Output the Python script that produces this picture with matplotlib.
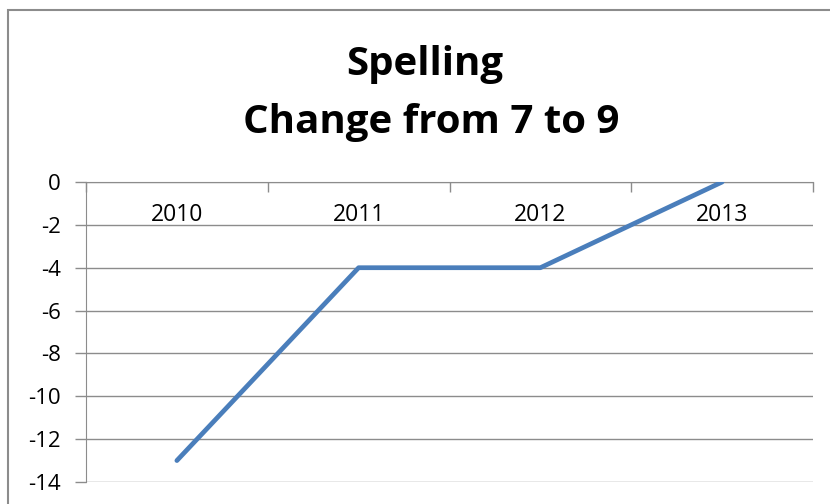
import numpy as np
import matplotlib
matplotlib.use("Agg")
import matplotlib.pyplot as plt
from matplotlib.patches import Rectangle

years = ["2010", "2011", "2012", "2013"]
change = [-13, -4, -4, 0]
yticks = [0, -2, -4, -6, -8, -10, -12, -14]

W, H = 830, 504
fig = plt.figure(figsize=(W / 100, H / 100), dpi=100)

# outer chart border (Excel style), runs off the right and bottom edge
fig.patches.append(Rectangle((8 / W, -0.1), 1.2, 1 - 10 / H + 0.1, transform=fig.transFigure,
                             fill=False, edgecolor="#8c8c8c", linewidth=1.5))

ax = fig.add_axes([86 / W, 1 - 482 / H, (813 - 86) / W, (482 - 182) / H])
x = np.arange(len(years))
ax.plot(x, change, color="#4a7ebb", linewidth=3.4, solid_capstyle="round", zorder=3)

ax.set_xlim(-0.5, len(years) - 0.5)
ax.set_ylim(-14, 0)
ax.set_yticks(yticks)
ax.set_yticklabels([str(v) for v in yticks], fontsize=16, family="Open Sans")
ax.grid(axis="y", color="#8c8c8c", linewidth=1)
ax.set_axisbelow(True)

for s in ["right", "bottom"]:
    ax.spines[s].set_visible(False)
ax.spines["left"].set_color("#8c8c8c")
ax.spines["top"].set_color("#8c8c8c")

# category ticks sit on the zero line at the top, labels just below it
ax.xaxis.tick_top()
ax.set_xticks(np.arange(-0.5, len(years), 1.0))
ax.set_xticklabels([])
ax.tick_params(axis="x", direction="in", length=7, color="#8c8c8c", width=1)
ax.tick_params(axis="y", direction="out", length=8, color="#8c8c8c", width=1, pad=10)
for i, yr in enumerate(years):
    ax.text(i, -1.55, yr, ha="center", va="center", fontsize=16.5, family="Open Sans")

fig.text(425 / W, 1 - 65 / H, "Spelling", ha="center", va="center",
         fontsize=29, fontweight="bold", family="Open Sans")
fig.text(431 / W, 1 - 123 / H, "Change from 7 to 9", ha="center", va="center",
         fontsize=29, fontweight="bold", family="Open Sans")

fig.savefig("out.png", dpi=100)
